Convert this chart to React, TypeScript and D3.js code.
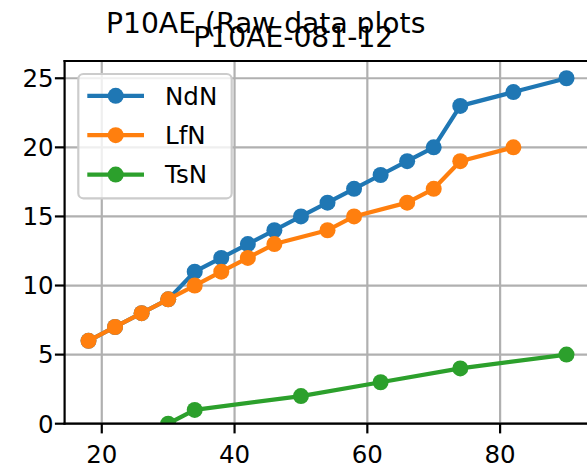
import React from "react";
import * as d3 from "d3";

const ndnX = [18, 22, 26, 30, 34, 38, 42, 46, 50, 54, 58, 62, 66, 70, 74, 82, 90];
const ndnY = [6, 7, 8, 9, 11, 12, 13, 14, 15, 16, 17, 18, 19, 20, 23, 24, 25];
const lfnX = [18, 22, 26, 30, 34, 38, 42, 46, 54, 58, 66, 70, 74, 82];
const lfnY = [6, 7, 8, 9, 10, 11, 12, 13, 14, 15, 16, 17, 19, 20];
const tsnX = [30, 34, 50, 62, 74, 90];
const tsnY = [0, 1, 2, 3, 4, 5];
const seriesNames = ["NdN", "LfN", "TsN"];
const seriesColors = ["#1f77b4", "#ff7f0e", "#2ca02c"];
const xTicks = [20, 40, 60, 80];
const yTicks = [0, 5, 10, 15, 20, 25];
const suptitle = "P10AE (Raw data plots";
const axTitle = "P10AE-081-12";

const W = 587;
const H = 471;
const L = 64.6, R = 590.4, T = 61, B = 423.7;
const FONT = "'DejaVu Sans', sans-serif";

export default function App() {
  const x = d3.scaleLinear().domain([14.4, 93.6]).range([L, R]);
  const y = d3.scaleLinear().domain([0, 26.25]).range([B, T]);
  const series = [
    { name: seriesNames[0], color: seriesColors[0], pts: ndnX.map((v, i) => [v, ndnY[i]] as [number, number]) },
    { name: seriesNames[1], color: seriesColors[1], pts: lfnX.map((v, i) => [v, lfnY[i]] as [number, number]) },
    { name: seriesNames[2], color: seriesColors[2], pts: tsnX.map((v, i) => [v, tsnY[i]] as [number, number]) },
  ];
  const line = d3.line<[number, number]>().x((d) => x(d[0])).y((d) => y(d[1]));
  const legX = 78.3, legY = 74, legW = 153.4, legH = 124.3;
  const rowY = [95.8, 135.2, 174.6];

  return (
    <svg width={W} height={H} style={{ position: "fixed", left: 0, top: 0, background: "#fff" }} fontFamily={FONT}>
      <defs>
        <clipPath id="axclip">
          <rect x={L} y={T} width={R - L} height={B - T} />
        </clipPath>
      </defs>
      <rect width={W} height={H} fill="#fff" />
      {/* grid */}
      {xTicks.map((t) => (
        <line key={"gx" + t} x1={x(t)} x2={x(t)} y1={T} y2={B} stroke="#b0b0b0" strokeWidth={2.2} />
      ))}
      {yTicks.map((t) => (
        <line key={"gy" + t} x1={L} x2={R} y1={y(t)} y2={y(t)} stroke="#b0b0b0" strokeWidth={2.2} />
      ))}
      {/* series */}
      <g clipPath="url(#axclip)">
        {series.map((s) => (
          <g key={s.name}>
            <path d={line(s.pts) || ""} fill="none" stroke={s.color} strokeWidth={4.2} strokeLinejoin="round" strokeLinecap="square" />
            {s.pts.map((p, i) => (
              <circle key={i} cx={x(p[0])} cy={y(p[1])} r={8} fill={s.color} />
            ))}
          </g>
        ))}
      </g>
      {/* spines */}
      <line x1={L} x2={L} y1={T} y2={B} stroke="#000" strokeWidth={2.2} strokeLinecap="square" />
      <line x1={L} x2={R} y1={B} y2={B} stroke="#000" strokeWidth={2.2} strokeLinecap="square" />
      <line x1={L} x2={R} y1={T} y2={T} stroke="#000" strokeWidth={2.2} strokeLinecap="square" />
      <line x1={R} x2={R} y1={T} y2={B} stroke="#000" strokeWidth={2.2} strokeLinecap="square" />
      {/* ticks */}
      {xTicks.map((t) => (
        <g key={"tx" + t}>
          <line x1={x(t)} x2={x(t)} y1={B} y2={B + 9.7} stroke="#000" strokeWidth={2.2} />
          <text x={x(t)} y={463.3} fontSize={24.5} textAnchor="middle" fill="#000">{t}</text>
        </g>
      ))}
      {yTicks.map((t) => (
        <g key={"ty" + t}>
          <line x1={L - 9.7} x2={L} y1={y(t)} y2={y(t)} stroke="#000" strokeWidth={2.2} />
          <text x={L - 11} y={y(t)} dy="0.36em" fontSize={24.5} textAnchor="end" fill="#000">{t}</text>
        </g>
      ))}
      {/* legend */}
      <rect x={legX} y={legY} width={legW} height={legH} rx={5} ry={5} fill="#fff" fillOpacity={0.8} stroke="#cccccc" strokeWidth={2.2} />
      {series.map((s, i) => (
        <g key={"leg" + s.name}>
          <line x1={87.3} x2={144} y1={rowY[i]} y2={rowY[i]} stroke={s.color} strokeWidth={4.2} />
          <circle cx={115.7} cy={rowY[i]} r={8} fill={s.color} />
          <text x={165} y={rowY[i]} dy="0.36em" fontSize={24.5} fill="#000">{s.name}</text>
        </g>
      ))}
      {/* titles */}
      <text x={106} y={33.3} fontSize={28.2} fill="#000">{suptitle}</text>
      <text x={193.3} y={46.7} fontSize={28.2} fill="#000">{axTitle}</text>
    </svg>
  );
}
